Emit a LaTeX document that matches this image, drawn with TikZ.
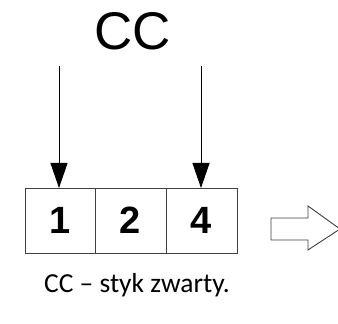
\documentclass[tikz,border=0pt]{standalone}
\usepackage{fontspec}
\setmainfont{Liberation Sans}
\newfontfamily\calib{Carlito}
\usetikzlibrary{arrows.meta}
\begin{document}
\begin{tikzpicture}[x=1pt,y=1pt,
  cell/.style={draw=black!75,line width=0.9pt,minimum height=65pt,inner sep=0pt,outer sep=0pt,font=\fontsize{38}{40}\selectfont\bfseries},
  pin/.style={line width=0.9pt,-{Triangle[length=25pt,width=17pt]}},
  hollow/.style={draw=black!75,line width=0.9pt,fill=white}]
\useasboundingbox (0,0) rectangle (338,324);
\node[cell,minimum width=70pt,anchor=south west] (c1) at (25,71) {1};
\node[cell,minimum width=71pt,anchor=south west] (c2) at (95,71) {2};
\node[cell,minimum width=71pt,anchor=south west] (c4) at (166,71) {4};
\node[font=\fontsize{53}{55}\selectfont] (cc) at (133,293) {CC};
\coordinate (s1) at (59,258);
\coordinate (s4) at (201,258);
\draw[pin] (s1) -- (s1 |- c1.north);
\draw[pin] (s4) -- (s4 |- c4.north);
\draw[hollow] (271,106) -- (308,106) -- (308,118) -- (340,95) -- (308,74) -- (308,84) -- (271,84) -- cycle;
\node[font=\calib\fontsize{27.5}{30}\selectfont,anchor=base] (cap) at (137,31) {CC – styk zwarty.};
\end{tikzpicture}
\end{document}
